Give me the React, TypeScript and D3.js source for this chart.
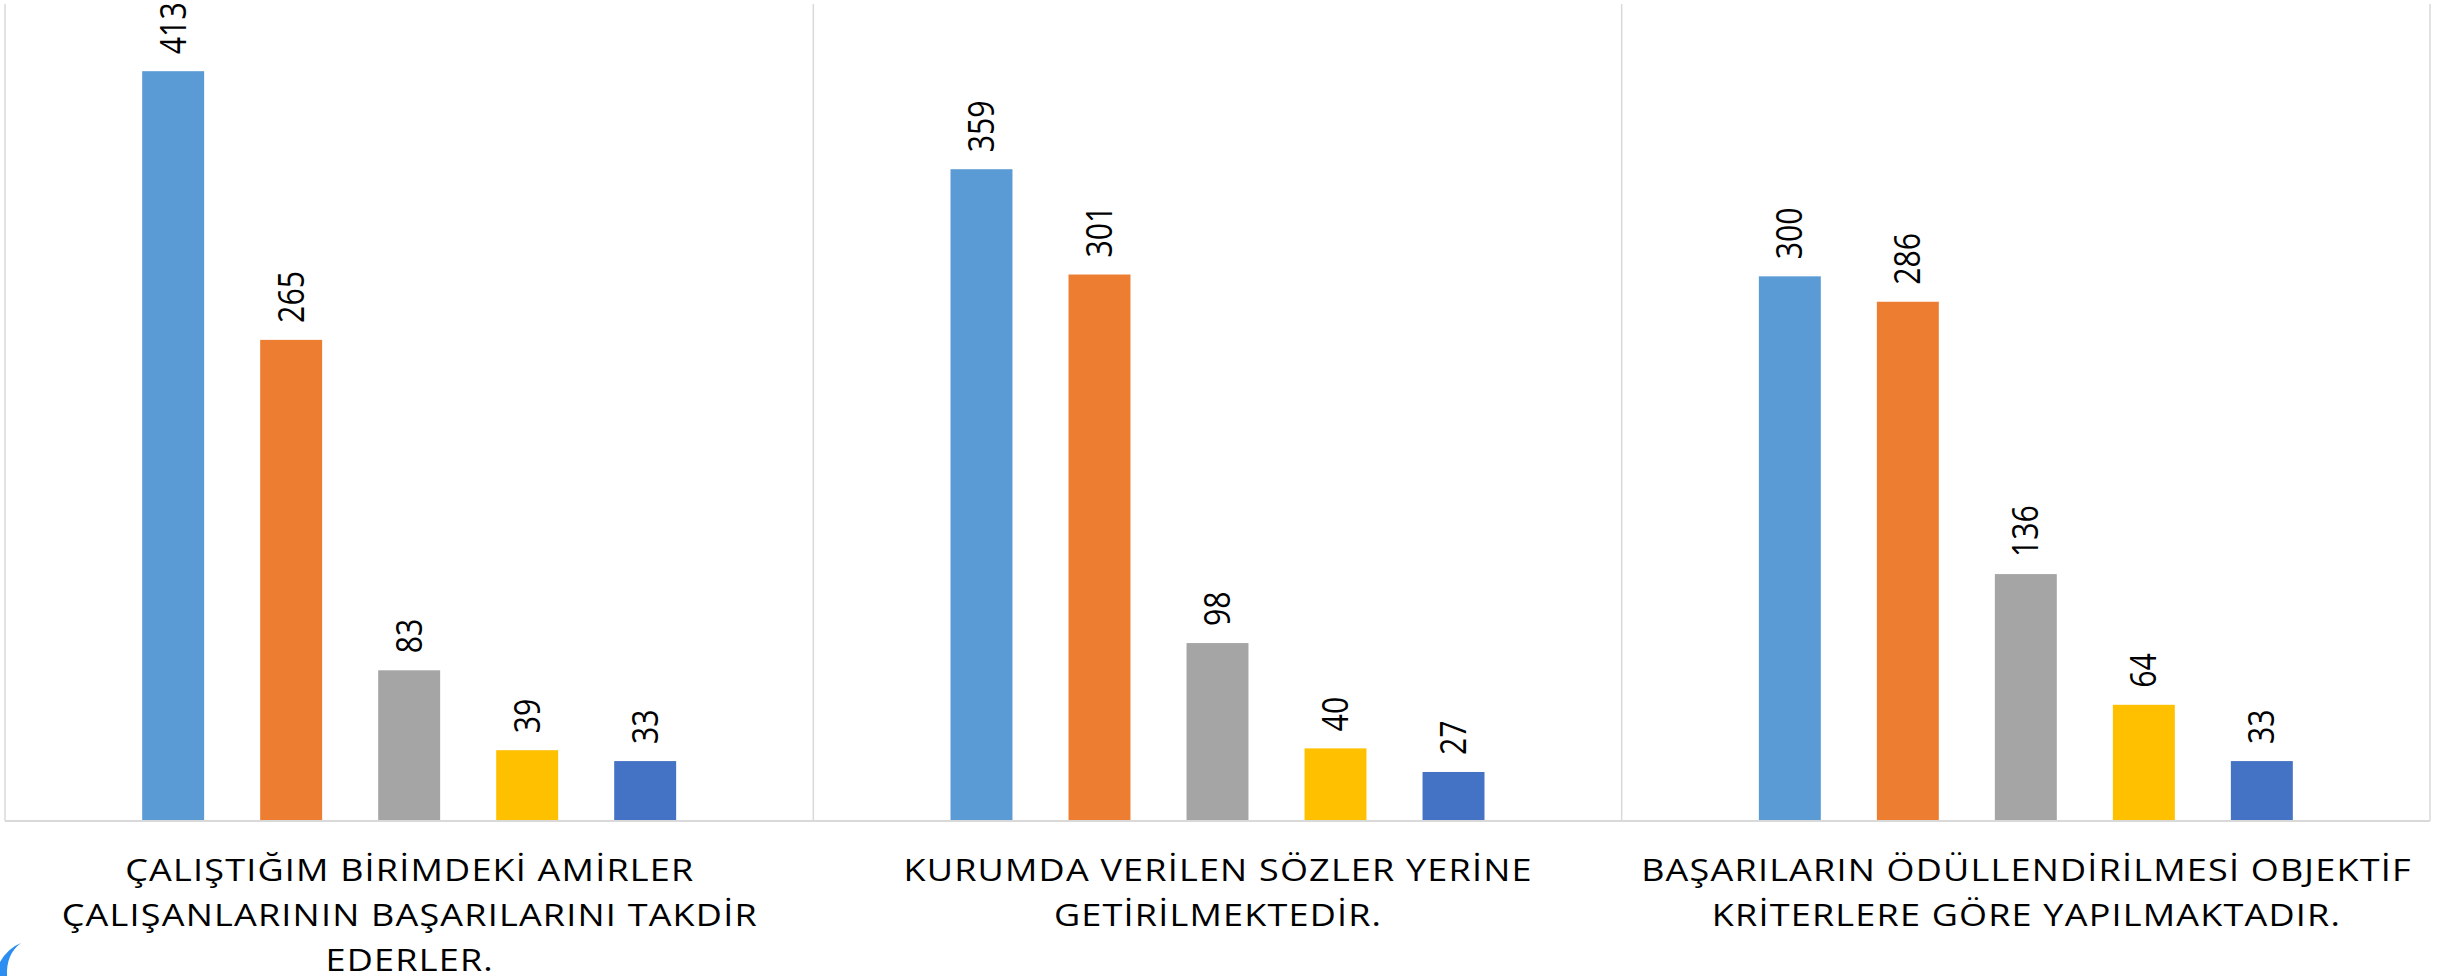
import React from "react";
import * as d3 from "d3";

// ---- data ----
const categories = ["amirler", "sozler", "oduller"];
const categoryLines: string[][] = [
  ["ÇALIŞTIĞIM BİRİMDEKİ AMİRLER", "ÇALIŞANLARININ BAŞARILARINI TAKDİR", "EDERLER."],
  ["KURUMDA VERİLEN SÖZLER YERİNE", "GETİRİLMEKTEDİR."],
  ["BAŞARILARIN ÖDÜLLENDİRİLMESİ OBJEKTİF", "KRİTERLERE GÖRE YAPILMAKTADIR."],
];
const seriesNames = [
  "Kesinlikle Katılıyorum",
  "Katılıyorum",
  "Kararsızım",
  "Katılmıyorum",
  "Kesinlikle Katılmıyorum",
];
const seriesColors = ["#5B9BD5", "#ED7D31", "#A5A5A5", "#FFC000", "#4472C4"];
const series1 = [413, 359, 300];
const series2 = [265, 301, 286];
const series3 = [83, 98, 136];
const series4 = [39, 40, 64];
const series5 = [33, 27, 33];
const seriesValues = [series1, series2, series3, series4, series5];
const yDomain = [0, 450];

const WIDTH = 2448;
const HEIGHT = 976;
const SQUASH = 0.84;
const FONT = "'Open Sans', 'Noto Sans', sans-serif";

export default function App() {
  const left = 5;
  const right = 2430;
  const top = 4;
  const bottom = 821;

  const x0 = d3
    .scaleBand<number>()
    .domain(d3.range(categories.length))
    .range([left, right])
    .padding(0);
  const x1 = d3
    .scaleBand<number>()
    .domain(d3.range(seriesNames.length))
    .range([0, x0.bandwidth()])
    .paddingInner(0.475)
    .paddingOuter(1.1625);
  const y = d3.scaleLinear().domain(yDomain).range([bottom, top]);

  const gridXs = [...d3.range(categories.length).map((i) => x0(i) as number), right];

  return (
    <svg
      width={WIDTH}
      height={HEIGHT}
      style={{ position: "absolute", left: 0, top: 0, background: "#fff" }}
      fontFamily={FONT}
    >
      <rect x={0} y={0} width={WIDTH} height={HEIGHT} fill="#fff" />
      {/* vertical category gridlines */}
      {gridXs.map((gx, i) => (
        <line key={"g" + i} x1={gx} x2={gx} y1={top} y2={bottom} stroke="#d9d9d9" strokeWidth={1.5} />
      ))}
      {/* bars */}
      {categories.map((c, ci) =>
        seriesValues.map((vals, si) => {
          const v = vals[ci];
          const bx = (x0(ci) as number) + (x1(si) as number);
          return (
            <rect
              key={c + si}
              x={bx}
              y={y(v)}
              width={x1.bandwidth()}
              height={y(0) - y(v)}
              fill={seriesColors[si]}
            />
          );
        })
      )}
      {/* baseline */}
      <line x1={left} x2={right} y1={bottom} y2={bottom} stroke="#d9d9d9" strokeWidth={2} />
      {/* value labels */}
      {categories.map((c, ci) =>
        seriesValues.map((vals, si) => {
          const v = vals[ci];
          const cx = (x0(ci) as number) + (x1(si) as number) + x1.bandwidth() / 2;
          return (
            <text
              key={"l" + c + si}
              transform={`translate(${cx},${y(v) - 17}) scale(1,${SQUASH}) rotate(-90)`}
              dy="0.35em"
              textAnchor="start"
              fontSize={36}
              fill="#000"
            >
              {v}
            </text>
          );
        })
      )}
      {/* category labels */}
      {categories.map((c, ci) => {
        const cx = (x0(ci) as number) + x0.bandwidth() / 2;
        return (
          <text
            key={"c" + c}
            transform={`translate(${cx + 0.6},881) scale(1,${SQUASH})`}
            textAnchor="middle"
            fontSize={36}
            letterSpacing={1.2}
            fill="#000"
          >
            {categoryLines[ci].map((ln, li) => (
              <tspan key={li} x={0} y={li * (45 / SQUASH)}>
                {ln}
              </tspan>
            ))}
          </text>
        );
      })}
      {/* clipped decorative blue shape at bottom-left */}
      <path d="M21,943 Q6,954 7,976 L0,976 L0,962 Q8,948 21,943 Z" fill="#2b8ef0" />
    </svg>
  );
}
